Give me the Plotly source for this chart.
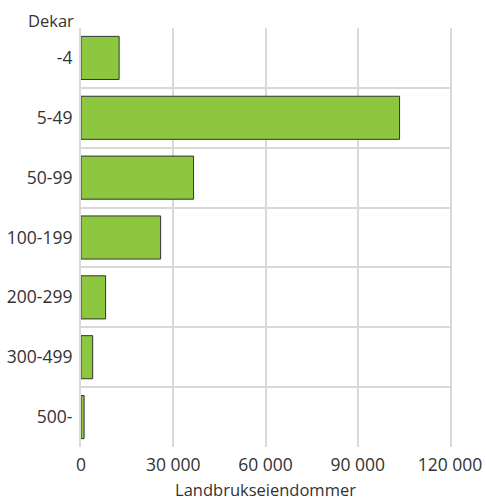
import plotly.graph_objects as go

categories = ["-4", "5-49", "50-99", "100-199", "200-299", "300-499", "500-"]
values = [12400, 103600, 36600, 25900, 8000, 3800, 1000]
x_ticks = [0, 30000, 60000, 90000, 120000]
x_tick_labels = ["0", "30 000", "60 000", "90 000", "120 000"]

font_family = "Open Sans, Noto Sans, sans-serif"
text_color = "#333333"
grid_color = "#d9d9d9"
fsize = 16.5
tick_size = 17.5

fig = go.Figure(go.Bar(
    x=values,
    y=categories,
    orientation="h",
    width=0.72,
    marker=dict(color="#8dc63f", line=dict(color="#333333", width=1)),
    hoverinfo="x+y",
))

fig.update_layout(
    width=486, height=501,
    margin=dict(l=81, r=36, t=28, b=54),
    paper_bgcolor="white", plot_bgcolor="white",
    font=dict(family=font_family, size=fsize, color=text_color),
    showlegend=False,
    xaxis=dict(
        range=[0, 120000], automargin=False,
        tickvals=x_ticks, ticktext=x_tick_labels,
        tickfont=dict(size=tick_size),
        showgrid=True, gridcolor=grid_color, gridwidth=2,
        zeroline=False, showline=False, ticks="",
        ticklabelstandoff=5,
        title=dict(text="Landbrukseiendommer", standoff=13, font=dict(size=fsize)),
    ),
    yaxis=dict(
        type="category", automargin=False,
        categoryorder="array", categoryarray=categories,
        autorange="reversed",
        tickson="boundaries",
        tickfont=dict(size=tick_size),
        showgrid=True, gridcolor=grid_color, gridwidth=2,
        showline=True, linecolor=grid_color, linewidth=2,
        mirror=True,
        ticks="", ticklabelstandoff=3,
    ),
    annotations=[dict(
        text="Dekar", xref="paper", yref="paper", x=0, y=1,
        xanchor="right", yanchor="bottom", xshift=-5, yshift=-6,
        showarrow=False, font=dict(size=fsize, color=text_color),
    )],
)

fig.write_html("out.html", config={"displayModeBar": False},
               post_script="document.body.style.margin='0';")
